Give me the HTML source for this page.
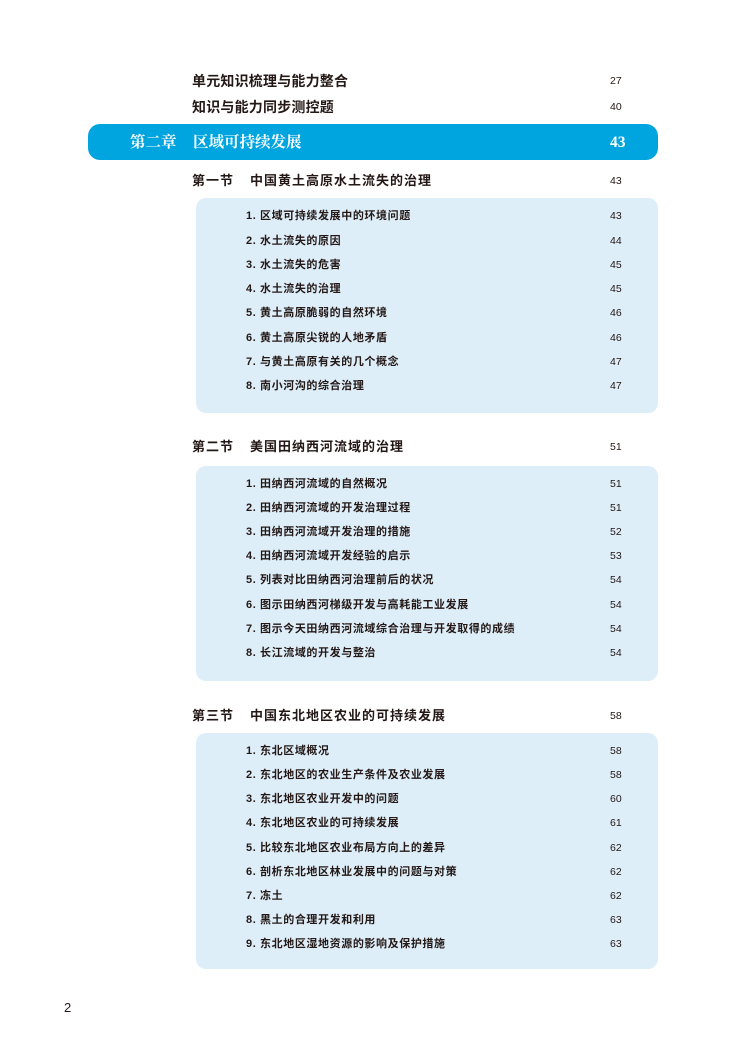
<!DOCTYPE html>
<html><head><meta charset="utf-8"><style>
body{margin:0;width:747px;height:1054px;background:#fff;position:relative;overflow:hidden;font-family:"Liberation Sans","Noto Sans CJK SC",sans-serif;color:#231815}
.t{position:absolute;white-space:nowrap;line-height:20px;height:20px}
.h{font-size:14px;font-weight:bold;left:192px;letter-spacing:0.2px}
.s{font-size:13px;font-weight:bold;letter-spacing:1px}
.i{font-size:11px;font-weight:bold;left:246px;letter-spacing:0.6px}
.n{font-size:10.5px;left:610px}
.box{position:absolute;left:196px;width:462px;background:#deeef9;border-radius:10px}
.ban{position:absolute;left:88px;top:124px;width:570px;height:36px;background:#00a5e0;border-radius:12px}
.w{color:#fff;font-family:"Liberation Serif","Noto Serif CJK SC",serif;font-size:15.5px;font-weight:bold}
</style></head><body>
<div class="t h" style="top:71px">单元知识梳理与能力整合</div><div class="t n" style="top:71px">27</div>
<div class="t h" style="top:97px">知识与能力同步测控题</div><div class="t n" style="top:97px">40</div>
<div class="ban"></div>
<div class="t w" style="top:133px;left:130px">第二章</div>
<div class="t w" style="top:133px;left:193px">区域可持续发展</div>
<div class="t w" style="top:133px;left:610px">43</div>

<div class="t s" style="top:171px;left:192px">第一节</div><div class="t s" style="top:171px;left:250px">中国黄土高原水土流失的治理</div><div class="t n" style="top:171px">43</div>
<div class="box" style="top:198px;height:215px"></div>
<div class="t i" style="top:206px">1. 区域可持续发展中的环境问题</div><div class="t n" style="top:206px">43</div>
<div class="t i" style="top:231px">2. 水土流失的原因</div><div class="t n" style="top:231px">44</div>
<div class="t i" style="top:255px">3. 水土流失的危害</div><div class="t n" style="top:255px">45</div>
<div class="t i" style="top:279px">4. 水土流失的治理</div><div class="t n" style="top:279px">45</div>
<div class="t i" style="top:303px">5. 黄土高原脆弱的自然环境</div><div class="t n" style="top:303px">46</div>
<div class="t i" style="top:328px">6. 黄土高原尖锐的人地矛盾</div><div class="t n" style="top:328px">46</div>
<div class="t i" style="top:352px">7. 与黄土高原有关的几个概念</div><div class="t n" style="top:352px">47</div>
<div class="t i" style="top:376px">8. 南小河沟的综合治理</div><div class="t n" style="top:376px">47</div>

<div class="t s" style="top:437px;left:192px">第二节</div><div class="t s" style="top:437px;left:250px">美国田纳西河流域的治理</div><div class="t n" style="top:437px">51</div>
<div class="box" style="top:466px;height:215px"></div>
<div class="t i" style="top:474px">1. 田纳西河流域的自然概况</div><div class="t n" style="top:474px">51</div>
<div class="t i" style="top:498px">2. 田纳西河流域的开发治理过程</div><div class="t n" style="top:498px">51</div>
<div class="t i" style="top:522px">3. 田纳西河流域开发治理的措施</div><div class="t n" style="top:522px">52</div>
<div class="t i" style="top:546px">4. 田纳西河流域开发经验的启示</div><div class="t n" style="top:546px">53</div>
<div class="t i" style="top:570px">5. 列表对比田纳西河治理前后的状况</div><div class="t n" style="top:570px">54</div>
<div class="t i" style="top:595px">6. 图示田纳西河梯级开发与高耗能工业发展</div><div class="t n" style="top:595px">54</div>
<div class="t i" style="top:619px">7. 图示今天田纳西河流域综合治理与开发取得的成绩</div><div class="t n" style="top:619px">54</div>
<div class="t i" style="top:643px">8. 长江流域的开发与整治</div><div class="t n" style="top:643px">54</div>

<div class="t s" style="top:706px;left:192px">第三节</div><div class="t s" style="top:706px;left:250px">中国东北地区农业的可持续发展</div><div class="t n" style="top:706px">58</div>
<div class="box" style="top:733px;height:236px"></div>
<div class="t i" style="top:741px">1. 东北区域概况</div><div class="t n" style="top:741px">58</div>
<div class="t i" style="top:765px">2. 东北地区的农业生产条件及农业发展</div><div class="t n" style="top:765px">58</div>
<div class="t i" style="top:789px">3. 东北地区农业开发中的问题</div><div class="t n" style="top:789px">60</div>
<div class="t i" style="top:813px">4. 东北地区农业的可持续发展</div><div class="t n" style="top:813px">61</div>
<div class="t i" style="top:838px">5. 比较东北地区农业布局方向上的差异</div><div class="t n" style="top:838px">62</div>
<div class="t i" style="top:862px">6. 剖析东北地区林业发展中的问题与对策</div><div class="t n" style="top:862px">62</div>
<div class="t i" style="top:886px">7. 冻土</div><div class="t n" style="top:886px">62</div>
<div class="t i" style="top:910px">8. 黑土的合理开发和利用</div><div class="t n" style="top:910px">63</div>
<div class="t i" style="top:934px">9. 东北地区湿地资源的影响及保护措施</div><div class="t n" style="top:934px">63</div>

<div class="t" style="top:998px;left:64px;font-size:13px">2</div>
</body></html>
